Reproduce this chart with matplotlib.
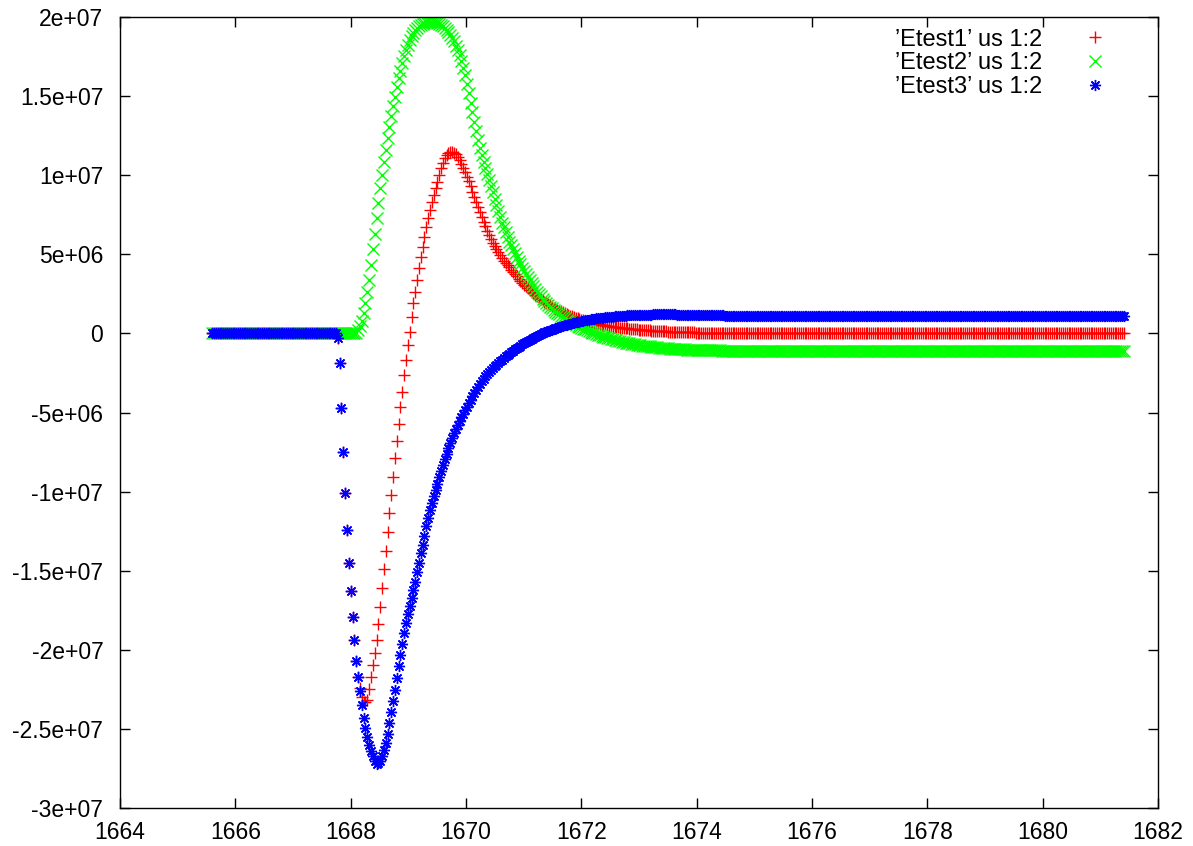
import numpy as np
import matplotlib
matplotlib.use("Agg")
import matplotlib.pyplot as plt
from matplotlib.ticker import FuncFormatter, MultipleLocator

# uniform sample grid shared by the three files (column 1)
x_start = 1665.6
x_step = 0.032

# column 2 of each file, in units of 1e6
etest1 = ([0.0] * 68 + [
    -0.3, -1.9, -4.7, -7.5, -10.1, -12.4, -14.5, -16.3, -17.9, -19.4, -20.7, -21.7,
    -22.4, -23.0, -23.3, -23.3,
    -23.15, -22.48, -21.69, -20.95, -20.21, -19.37, -18.38, -17.26, -16.1, -14.9,
    -13.73, -12.56, -11.36, -10.21, -9.05, -7.89, -6.78, -5.72, -4.67, -3.68,
    -2.63, -1.68, -0.73, 0.11, 1.05, 1.9, 2.63, 3.37, 4.11, 4.85,
    5.48, 6.11, 6.7, 7.27, 7.8, 8.32, 8.74, 9.17, 9.58, 10.0,
    10.43, 10.75, 11.06, 11.27, 11.42, 11.48, 11.48, 11.42, 11.3, 11.14,
    10.95, 10.72, 10.47, 10.2, 9.9, 9.6, 9.28, 8.95, 8.62, 8.3,
    7.97, 7.65, 7.34, 7.04, 6.75, 6.47, 6.2, 5.95, 5.72, 5.5,
    5.3, 5.11, 4.93, 4.76, 4.6, 4.45, 4.3, 4.16, 4.02, 3.88,
    3.74, 3.6, 3.46, 3.33, 3.2, 3.08, 2.96, 2.85, 2.74, 2.63,
    2.53, 2.43, 2.34, 2.25, 2.16, 2.08, 2.0, 1.92, 1.84, 1.77,
    1.7, 1.63, 1.56, 1.5, 1.44, 1.38, 1.32, 1.27, 1.22, 1.17,
    1.12, 1.08, 1.03, 0.99, 0.95, 0.91, 0.87, 0.83, 0.8, 0.77,
    0.73, 0.7, 0.67, 0.64, 0.62, 0.59, 0.57, 0.54, 0.52, 0.5,
    0.48, 0.46, 0.44, 0.42, 0.41, 0.39, 0.38, 0.36, 0.35, 0.33,
    0.32, 0.31, 0.29, 0.28, 0.27, 0.26, 0.25, 0.24, 0.23, 0.22,
    0.21, 0.2, 0.19, 0.18, 0.17, 0.17, 0.16, 0.15, 0.14, 0.14,
    0.13, 0.12, 0.12, 0.11, 0.11, 0.1, 0.1, 0.09, 0.09, 0.08,
    0.08, 0.08, 0.07, 0.07, 0.07, 0.06, 0.06, 0.06, 0.05, 0.05,
    0.05, 0.05, 0.04, 0.04, 0.04, 0.04, 0.03, 0.03, 0.03, 0.03,
    0.03, 0.02, 0.02, 0.02, 0.02, 0.02, 0.02, 0.01, 0.01, 0.01,
    0.01, 0.01, 0.01, 0.0, 0.0, 0.0,
] + [0.0] * 205)

etest2 = ([0.0] * 78 + [
    0.05, 0.2, 0.45, 0.8, 1.3, 1.9, 2.6, 3.4, 4.3, 5.3,
    6.3, 7.3, 8.25, 9.15, 10.0, 10.8, 11.6, 12.35, 13.05, 13.7,
    14.35, 14.95, 15.55, 16.1, 16.6, 17.1, 17.5, 17.9, 18.2, 18.5,
    18.75, 18.95, 19.15, 19.3, 19.4, 19.5, 19.57, 19.62, 19.65, 19.67,
    19.68, 19.68, 19.67, 19.65, 19.62, 19.56, 19.49, 19.4, 19.29, 19.16,
    19.02, 18.86, 18.66, 18.44, 18.18, 17.9, 17.55, 17.18, 16.78, 16.3,
    15.75, 15.15, 14.55, 13.95, 13.35, 12.75, 12.2, 11.7, 11.25, 10.85,
    10.45, 10.05, 9.7, 9.3, 8.9, 8.5, 8.1, 7.7, 7.35, 7.0,
    6.7, 6.4, 6.1, 5.8, 5.55, 5.3, 5.05, 4.85, 4.6, 4.35,
    4.15, 3.95, 3.75, 3.55, 3.35, 3.15, 2.97, 2.8, 2.63, 2.48,
    2.33, 2.18, 2.05, 1.92, 1.8, 1.68, 1.57, 1.47, 1.37, 1.28,
    1.19, 1.1, 1.02, 0.94, 0.87, 0.8, 0.73, 0.66, 0.6, 0.54,
    0.48, 0.42, 0.36, 0.3, 0.25, 0.2, 0.15, 0.1, 0.05, 0.0,
    -0.04, -0.08, -0.12, -0.16, -0.2, -0.24, -0.28, -0.31, -0.34, -0.37,
    -0.4, -0.43, -0.46, -0.49, -0.52, -0.55, -0.58, -0.61, -0.63, -0.65,
    -0.67, -0.69, -0.71, -0.73, -0.75, -0.77, -0.78, -0.8, -0.81, -0.83,
    -0.84, -0.86, -0.87, -0.88, -0.9, -0.91, -0.92, -0.93, -0.94, -0.95,
    -0.96, -0.97, -0.98, -0.99, -1.0, -1.0, -1.01, -1.02, -1.02, -1.03,
    -1.03, -1.04, -1.04, -1.04, -1.05, -1.05, -1.05, -1.06, -1.06, -1.06,
    -1.07, -1.07, -1.07, -1.07, -1.08, -1.08, -1.08, -1.08, -1.09, -1.09,
    -1.09, -1.09, -1.1, -1.1, -1.1, -1.1, -1.1, -1.11, -1.11, -1.11,
    -1.11, -1.11, -1.12,
] + [-1.12] * 204)

etest3 = ([0.0] * 68 + [
    -0.3, -1.9, -4.7, -7.5, -10.1, -12.4, -14.5, -16.3, -17.9, -19.4,
    -20.7, -21.7, -22.6, -23.5, -24.3, -24.9, -25.5, -26.0, -26.4, -26.7,
    -27.0, -27.2, -27.15, -27.0, -26.7, -26.3, -25.9, -25.3, -24.6, -23.9,
    -23.2, -22.5, -21.8, -21.0, -20.3, -19.6, -18.9, -18.3, -17.7, -17.2,
    -16.7, -16.2, -15.7, -15.1, -14.5, -13.9, -13.35, -12.8, -12.2, -11.65,
    -11.15, -10.7, -10.3, -9.9, -9.5, -9.1, -8.7, -8.3, -7.95, -7.6,
    -7.25, -6.9, -6.6, -6.3, -6.05, -5.8, -5.55, -5.3, -5.08, -4.86,
    -4.64, -4.42, -4.2, -3.98, -3.77, -3.56, -3.37, -3.2, -3.03, -2.87,
    -2.72, -2.58, -2.45, -2.32, -2.2, -2.08, -1.97, -1.86, -1.76, -1.66,
    -1.56, -1.46, -1.37, -1.28, -1.19, -1.1, -1.01, -0.93, -0.85, -0.77,
    -0.69, -0.61, -0.54, -0.47, -0.4, -0.33, -0.27, -0.21, -0.15, -0.09,
    -0.04, 0.01, 0.06, 0.11, 0.16, 0.2, 0.24, 0.28, 0.32, 0.36,
    0.4, 0.44, 0.47, 0.51, 0.54, 0.57, 0.6, 0.63, 0.66, 0.69,
    0.72, 0.74, 0.77, 0.79, 0.82, 0.84, 0.86, 0.88, 0.9, 0.92,
    0.94, 0.96, 0.97, 0.99, 1.0, 1.02, 1.03, 1.04, 1.05, 1.06,
    1.07, 1.08, 1.09, 1.1, 1.11, 1.12, 1.12, 1.13, 1.14, 1.14,
    1.15, 1.15, 1.16, 1.16, 1.17, 1.17, 1.17, 1.18, 1.18, 1.18,
    1.18, 1.19, 1.19, 1.19, 1.19, 1.19, 1.19, 1.19, 1.19, 1.19,
    1.19, 1.19, 1.19, 1.19, 1.18, 1.18, 1.18, 1.18, 1.18, 1.17,
    1.17, 1.17, 1.17, 1.16, 1.16, 1.16, 1.16, 1.15, 1.15, 1.15,
    1.15, 1.14, 1.14, 1.14, 1.14, 1.13, 1.13, 1.13, 1.13, 1.13,
    1.12, 1.12, 1.12, 1.12, 1.12, 1.12, 1.11, 1.11, 1.11, 1.11,
    1.11,
] + [1.1] * 206)

labels = ["\u2019Etest1\u2019 us 1:2", "\u2019Etest2\u2019 us 1:2", "\u2019Etest3\u2019 us 1:2"]
colors = ["#ff0000", "#00ff00", "#0000ff"]
markers = ["+", "x", (8, 2, 0)]

plt.rcParams["font.family"] = ["Liberation Sans", "DejaVu Sans"]

fig = plt.figure(figsize=(11.93, 8.46), dpi=100)
ax = fig.add_axes([120 / 1193, 37.7 / 846, 1038 / 1193, 791.6 / 846])

for vals, lab, col, mk in zip([etest1, etest2, etest3], labels, colors, markers):
    y = np.array(vals) * 1e6
    x = x_start + x_step * np.arange(len(y))
    ax.plot(x, y, linestyle="none", marker=mk, markersize=8, markeredgewidth=1.0,
            color=col, label=lab)

ax.set_xlim(1664, 1682)
ax.set_ylim(-3e7, 2e7)
ax.xaxis.set_major_locator(MultipleLocator(2))
ax.yaxis.set_major_locator(MultipleLocator(5e6))
ax.xaxis.set_major_formatter(FuncFormatter(lambda v, p: "%g" % v))
ax.yaxis.set_major_formatter(FuncFormatter(lambda v, p: "%g" % v))
ax.tick_params(direction="in", length=7, width=1, top=True, right=True,
               labelsize=16.5)
ax.tick_params(axis="x", pad=9)
ax.tick_params(axis="y", pad=12)
for s in ax.spines.values():
    s.set_linewidth(1.0)

ax.legend(loc="upper right", bbox_to_anchor=(0.962, 0.985), frameon=False,
          markerfirst=False, fontsize=17, handlelength=2.0, handletextpad=1.25,
          labelspacing=0.08, borderpad=0, borderaxespad=0, numpoints=1)

fig.savefig("out.png", dpi=100)
